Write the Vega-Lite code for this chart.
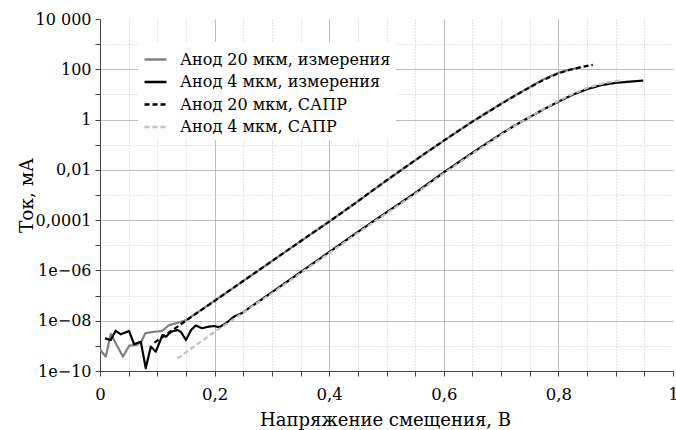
{
  "$schema": "https://vega.github.io/schema/vega-lite/v6.json",
  "width": 573,
  "height": 352,
  "autosize": {"type": "none"},
  "padding": {"left": 100, "top": 19, "right": 3, "bottom": 59},
  "background": "white",
  "config": {
    "view": {"stroke": null},
    "font": "DejaVu Serif",
    "text": {"font": "DejaVu Serif"},
    "legend": {
      "fillColor": "white",
      "padding": 5,
      "symbolType": "stroke",
      "symbolSize": 484,
      "symbolStrokeWidth": 2.5,
      "labelFont": "DejaVu Serif",
      "labelFontSize": 16,
      "labelColor": "#000000",
      "labelOffset": 12,
      "rowPadding": 1.5,
      "labelLimit": 400
    }
  },
  "data": {
    "values": [
      {"s": "Анод 20 мкм, измерения", "v": 0.0, "i": 7.08e-10},
      {"s": "Анод 20 мкм, измерения", "v": 0.01, "i": 3.72e-10},
      {"s": "Анод 20 мкм, измерения", "v": 0.019, "i": 2.95e-9},
      {"s": "Анод 20 мкм, измерения", "v": 0.04, "i": 3.72e-10},
      {"s": "Анод 20 мкм, измерения", "v": 0.051, "i": 1.02e-9},
      {"s": "Анод 20 мкм, измерения", "v": 0.063, "i": 1.07e-9},
      {"s": "Анод 20 мкм, измерения", "v": 0.072, "i": 1.45e-9},
      {"s": "Анод 20 мкм, измерения", "v": 0.079, "i": 3.16e-9},
      {"s": "Анод 20 мкм, измерения", "v": 0.094, "i": 3.63e-9},
      {"s": "Анод 20 мкм, измерения", "v": 0.108, "i": 3.89e-9},
      {"s": "Анод 20 мкм, измерения", "v": 0.121, "i": 6.76e-9},
      {"s": "Анод 20 мкм, измерения", "v": 0.133, "i": 7.94e-9},
      {"s": "Анод 20 мкм, измерения", "v": 0.15, "i": 1.05e-8},
      {"s": "Анод 20 мкм, измерения", "v": 0.2, "i": 6.17e-8},
      {"s": "Анод 20 мкм, измерения", "v": 0.25, "i": 3.8e-7},
      {"s": "Анод 20 мкм, измерения", "v": 0.3, "i": 2.34e-6},
      {"s": "Анод 20 мкм, измерения", "v": 0.35, "i": 1.45e-5},
      {"s": "Анод 20 мкм, измерения", "v": 0.4, "i": 8.71e-5},
      {"s": "Анод 20 мкм, измерения", "v": 0.45, "i": 5.62e-4},
      {"s": "Анод 20 мкм, измерения", "v": 0.5, "i": 3.8e-3},
      {"s": "Анод 20 мкм, измерения", "v": 0.55, "i": 0.024},
      {"s": "Анод 20 мкм, измерения", "v": 0.6, "i": 0.145},
      {"s": "Анод 20 мкм, измерения", "v": 0.65, "i": 0.832},
      {"s": "Анод 20 мкм, измерения", "v": 0.7, "i": 4.27},
      {"s": "Анод 20 мкм, измерения", "v": 0.725, "i": 9.3},
      {"s": "Анод 20 мкм, измерения", "v": 0.75, "i": 19.5},
      {"s": "Анод 20 мкм, измерения", "v": 0.775, "i": 40.7},
      {"s": "Анод 20 мкм, измерения", "v": 0.8, "i": 72.4},
      {"s": "Анод 20 мкм, измерения", "v": 0.82, "i": 97.7},
      {"s": "Анод 20 мкм, измерения", "v": 0.84, "i": 120},

      {"s": "Анод 4 мкм, измерения", "v": 0.0087, "i": 2.0e-9},
      {"s": "Анод 4 мкм, измерения", "v": 0.0187, "i": 1.7e-9},
      {"s": "Анод 4 мкм, измерения", "v": 0.0274, "i": 3.98e-9},
      {"s": "Анод 4 мкм, измерения", "v": 0.0362, "i": 2.88e-9},
      {"s": "Анод 4 мкм, измерения", "v": 0.0507, "i": 3.89e-9},
      {"s": "Анод 4 мкм, измерения", "v": 0.0594, "i": 1.17e-9},
      {"s": "Анод 4 мкм, измерения", "v": 0.0712, "i": 1.45e-9},
      {"s": "Анод 4 мкм, измерения", "v": 0.0799, "i": 1.29e-10},
      {"s": "Анод 4 мкм, измерения", "v": 0.0886, "i": 9.33e-10},
      {"s": "Анод 4 мкм, измерения", "v": 0.0974, "i": 5.89e-10},
      {"s": "Анод 4 мкм, измерения", "v": 0.109, "i": 2.69e-9},
      {"s": "Анод 4 мкм, измерения", "v": 0.115, "i": 2.29e-9},
      {"s": "Анод 4 мкм, измерения", "v": 0.124, "i": 3.63e-9},
      {"s": "Анод 4 мкм, измерения", "v": 0.135, "i": 4.27e-9},
      {"s": "Анод 4 мкм, измерения", "v": 0.141, "i": 3.63e-9},
      {"s": "Анод 4 мкм, измерения", "v": 0.15, "i": 1.7e-9},
      {"s": "Анод 4 мкм, измерения", "v": 0.159, "i": 4.27e-9},
      {"s": "Анод 4 мкм, измерения", "v": 0.167, "i": 6.46e-9},
      {"s": "Анод 4 мкм, измерения", "v": 0.178, "i": 5.01e-9},
      {"s": "Анод 4 мкм, измерения", "v": 0.189, "i": 5.75e-9},
      {"s": "Анод 4 мкм, измерения", "v": 0.199, "i": 6.17e-9},
      {"s": "Анод 4 мкм, измерения", "v": 0.208, "i": 5.5e-9},
      {"s": "Анод 4 мкм, измерения", "v": 0.22, "i": 7.94e-9},
      {"s": "Анод 4 мкм, измерения", "v": 0.234, "i": 1.45e-8},
      {"s": "Анод 4 мкм, измерения", "v": 0.249, "i": 2.09e-8},
      {"s": "Анод 4 мкм, измерения", "v": 0.26, "i": 3.16e-8},
      {"s": "Анод 4 мкм, измерения", "v": 0.3, "i": 1.35e-7},
      {"s": "Анод 4 мкм, измерения", "v": 0.35, "i": 8.51e-7},
      {"s": "Анод 4 мкм, измерения", "v": 0.4, "i": 5.37e-6},
      {"s": "Анод 4 мкм, измерения", "v": 0.45, "i": 3.39e-5},
      {"s": "Анод 4 мкм, измерения", "v": 0.5, "i": 2.04e-4},
      {"s": "Анод 4 мкм, измерения", "v": 0.55, "i": 1.2e-3},
      {"s": "Анод 4 мкм, измерения", "v": 0.6, "i": 7.94e-3},
      {"s": "Анод 4 мкм, измерения", "v": 0.65, "i": 0.0479},
      {"s": "Анод 4 мкм, измерения", "v": 0.7, "i": 0.269},
      {"s": "Анод 4 мкм, измерения", "v": 0.725, "i": 0.603},
      {"s": "Анод 4 мкм, измерения", "v": 0.75, "i": 1.26},
      {"s": "Анод 4 мкм, измерения", "v": 0.775, "i": 2.63},
      {"s": "Анод 4 мкм, измерения", "v": 0.8, "i": 5.13},
      {"s": "Анод 4 мкм, измерения", "v": 0.825, "i": 9.77},
      {"s": "Анод 4 мкм, измерения", "v": 0.85, "i": 16.2},
      {"s": "Анод 4 мкм, измерения", "v": 0.875, "i": 23.4},
      {"s": "Анод 4 мкм, измерения", "v": 0.9, "i": 28.8},
      {"s": "Анод 4 мкм, измерения", "v": 0.925, "i": 32.4},
      {"s": "Анод 4 мкм, измерения", "v": 0.948, "i": 35.5},

      {"s": "Анод 20 мкм, САПР", "v": 0.095, "i": 1.35e-9},
      {"s": "Анод 20 мкм, САПР", "v": 0.15, "i": 1.0e-8},
      {"s": "Анод 20 мкм, САПР", "v": 0.2, "i": 6.17e-8},
      {"s": "Анод 20 мкм, САПР", "v": 0.25, "i": 3.8e-7},
      {"s": "Анод 20 мкм, САПР", "v": 0.3, "i": 2.34e-6},
      {"s": "Анод 20 мкм, САПР", "v": 0.35, "i": 1.45e-5},
      {"s": "Анод 20 мкм, САПР", "v": 0.4, "i": 8.71e-5},
      {"s": "Анод 20 мкм, САПР", "v": 0.45, "i": 5.62e-4},
      {"s": "Анод 20 мкм, САПР", "v": 0.5, "i": 3.8e-3},
      {"s": "Анод 20 мкм, САПР", "v": 0.55, "i": 0.024},
      {"s": "Анод 20 мкм, САПР", "v": 0.6, "i": 0.145},
      {"s": "Анод 20 мкм, САПР", "v": 0.65, "i": 0.832},
      {"s": "Анод 20 мкм, САПР", "v": 0.7, "i": 4.17},
      {"s": "Анод 20 мкм, САПР", "v": 0.725, "i": 9.12},
      {"s": "Анод 20 мкм, САПР", "v": 0.75, "i": 19.1},
      {"s": "Анод 20 мкм, САПР", "v": 0.775, "i": 38.9},
      {"s": "Анод 20 мкм, САПР", "v": 0.8, "i": 69.2},
      {"s": "Анод 20 мкм, САПР", "v": 0.82, "i": 95.5},
      {"s": "Анод 20 мкм, САПР", "v": 0.84, "i": 123},
      {"s": "Анод 20 мкм, САПР", "v": 0.86, "i": 151},

      {"s": "Анод 4 мкм, САПР", "v": 0.135, "i": 3.16e-10},
      {"s": "Анод 4 мкм, САПР", "v": 0.17, "i": 1.17e-9},
      {"s": "Анод 4 мкм, САПР", "v": 0.2, "i": 3.63e-9},
      {"s": "Анод 4 мкм, САПР", "v": 0.2255, "i": 8.71e-9},
      {"s": "Анод 4 мкм, САПР", "v": 0.25, "i": 2.14e-8},
      {"s": "Анод 4 мкм, САПР", "v": 0.3, "i": 1.23e-7},
      {"s": "Анод 4 мкм, САПР", "v": 0.35, "i": 7.76e-7},
      {"s": "Анод 4 мкм, САПР", "v": 0.4, "i": 4.9e-6},
      {"s": "Анод 4 мкм, САПР", "v": 0.45, "i": 3.09e-5},
      {"s": "Анод 4 мкм, САПР", "v": 0.5, "i": 1.86e-4},
      {"s": "Анод 4 мкм, САПР", "v": 0.55, "i": 1.1e-3},
      {"s": "Анод 4 мкм, САПР", "v": 0.6, "i": 7.24e-3},
      {"s": "Анод 4 мкм, САПР", "v": 0.65, "i": 0.0437},
      {"s": "Анод 4 мкм, САПР", "v": 0.7, "i": 0.251},
      {"s": "Анод 4 мкм, САПР", "v": 0.725, "i": 0.589},
      {"s": "Анод 4 мкм, САПР", "v": 0.75, "i": 1.26},
      {"s": "Анод 4 мкм, САПР", "v": 0.775, "i": 2.69},
      {"s": "Анод 4 мкм, САПР", "v": 0.8, "i": 5.5},
      {"s": "Анод 4 мкм, САПР", "v": 0.825, "i": 10.5},
      {"s": "Анод 4 мкм, САПР", "v": 0.85, "i": 18.2},
      {"s": "Анод 4 мкм, САПР", "v": 0.88, "i": 28.2},
      {"s": "Анод 4 мкм, САПР", "v": 0.913, "i": 37.2}
    ]
  },
  "mark": {"type": "line", "strokeWidth": 2.2, "strokeCap": "butt", "strokeJoin": "round", "clip": true},
  "encoding": {
    "x": {
      "field": "v",
      "type": "quantitative",
      "scale": {"domain": [0, 1], "nice": false, "zero": false},
      "axis": {
        "values": [0, 0.05, 0.1, 0.15, 0.2, 0.25, 0.3, 0.35, 0.4, 0.45, 0.5, 0.55, 0.6, 0.65, 0.7, 0.75, 0.8, 0.85, 0.9, 0.95, 1],
        "labelExpr": "abs(datum.value*5 - round(datum.value*5)) < 0.001 ? replace(format(datum.value, '.1~f'), '.', ',') : ''",
        "labelFont": "DejaVu Serif",
        "labelFontSize": 16.5,
        "labelColor": "#000000",
        "labelFlush": false,
        "labelOverlap": false,
        "labelBaseline": "alphabetic",
        "labelPadding": 23,
        "tickSize": 5,
        "tickColor": "#444444",
        "domainColor": "#444444",
        "grid": true,
        "gridColor": {"condition": {"test": "abs(datum.value*5 - round(datum.value*5)) < 0.001", "value": "#a8a8a8"}, "value": "#c8c8c8"},
        "gridDash": {"condition": {"test": "abs(datum.value*5 - round(datum.value*5)) < 0.001", "value": [1, 0]}, "value": [1, 2]},
        "gridOpacity": {"condition": {"test": "datum.value < 0.01 || datum.value > 0.99", "value": 0}, "value": 1},
        "title": "Напряжение смещения, В",
        "titleFont": "DejaVu Serif",
        "titleFontSize": 18,
        "titleFontWeight": "normal",
        "titleColor": "#000000",
        "titleBaseline": "alphabetic",
        "titleX": 285,
        "titleY": 54,
        "titleAlign": "center"
      }
    },
    "y": {
      "field": "i",
      "type": "quantitative",
      "scale": {"type": "log", "domain": [1e-10, 10000], "nice": false},
      "axis": {
        "values": [1e-10, 1e-9, 1e-8, 1e-7, 1e-6, 1e-5, 1e-4, 1e-3, 0.01, 0.1, 1, 10, 100, 1000, 10000],
        "labelExpr": "round(log(datum.value)/LN10) == -10 ? '1e−10' : round(log(datum.value)/LN10) == -8 ? '1e−08' : round(log(datum.value)/LN10) == -6 ? '1e−06' : round(log(datum.value)/LN10) == -4 ? '0,0001' : round(log(datum.value)/LN10) == -2 ? '0,01' : round(log(datum.value)/LN10) == 0 ? '1' : round(log(datum.value)/LN10) == 2 ? '100' : round(log(datum.value)/LN10) == 4 ? '10 000' : ''",
        "labelFont": "DejaVu Serif",
        "labelFontSize": 16,
        "labelColor": "#000000",
        "labelFlush": false,
        "labelOverlap": false,
        "labelPadding": 4,
        "tickSize": 5,
        "tickColor": "#444444",
        "domainColor": "#444444",
        "grid": true,
        "gridColor": {"condition": {"test": "round(log(datum.value)/LN10) % 2 == 0", "value": "#a8a8a8"}, "value": "#c8c8c8"},
        "gridDash": {"condition": {"test": "round(log(datum.value)/LN10) % 2 == 0", "value": [1, 0]}, "value": [1, 2]},
        "gridOpacity": {"condition": {"test": "datum.value < 2e-10 || datum.value > 5000", "value": 0}, "value": 1},
        "title": "Ток, мА",
        "titleFont": "DejaVu Serif",
        "titleFontSize": 18.5,
        "titleFontWeight": "normal",
        "titleColor": "#000000",
        "titleBaseline": "alphabetic",
        "titleAngle": -90,
        "titleX": -68,
        "titleY": 176,
        "titleAlign": "center"
      }
    },
    "color": {
      "field": "s",
      "type": "nominal",
      "scale": {
        "domain": ["Анод 20 мкм, измерения", "Анод 4 мкм, измерения", "Анод 20 мкм, САПР", "Анод 4 мкм, САПР"],
        "range": ["#808080", "#000000", "#000000", "#c0c0c0"]
      },
      "legend": {"orient": "none", "legendX": 38, "legendY": 23, "title": null, "labelFont": "DejaVu Serif", "labelFontSize": 16}
    },
    "strokeDash": {
      "field": "s",
      "type": "nominal",
      "scale": {
        "domain": ["Анод 20 мкм, измерения", "Анод 4 мкм, измерения", "Анод 20 мкм, САПР", "Анод 4 мкм, САПР"],
        "range": [[1, 0], [1, 0], [5, 3], [5, 3]]
      },
      "legend": {"orient": "none", "legendX": 38, "legendY": 23, "title": null, "labelFont": "DejaVu Serif", "labelFontSize": 16}
    }
  }
}
